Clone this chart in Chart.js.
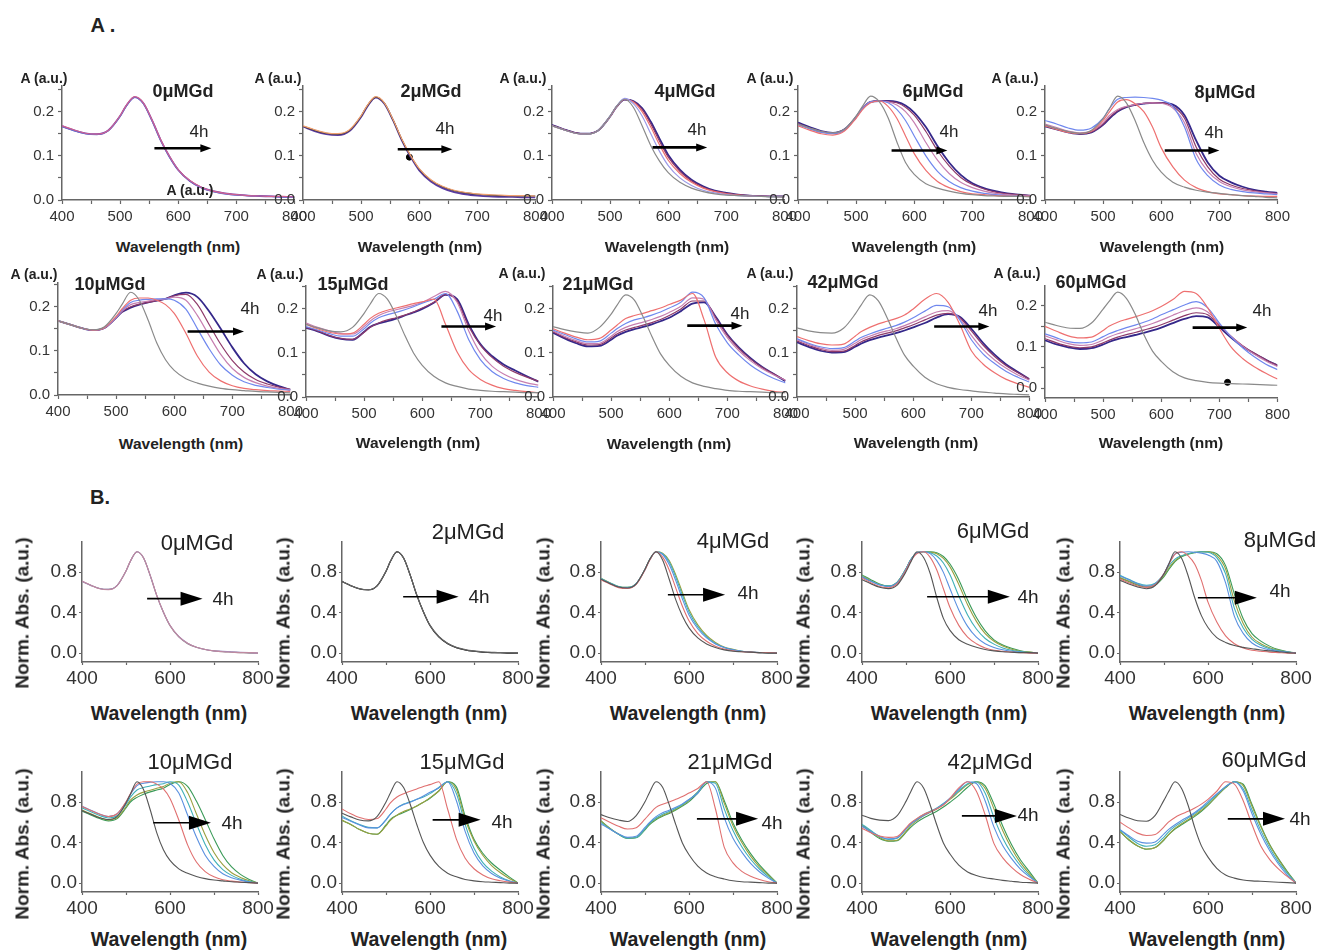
<!DOCTYPE html>
<html><head><meta charset="utf-8">
<script src="https://cdn.jsdelivr.net/npm/chart.js@4.4.1/dist/chart.umd.min.js"></script>
<style>
html,body{margin:0;padding:0;background:#fff;}
body{width:1328px;height:951px;position:relative;overflow:hidden;font-family:"Liberation Sans",Arial,sans-serif;color:#222;}
canvas.c{position:absolute;}
.t{position:absolute;white-space:nowrap;transform:translate(-50%,-50%);line-height:1;}
</style></head>
<body>
<script>
// ---------- data (absorbance) ----------
const wavelengths = [400,420,440,460,480,500,510,525,540,555,570,585,600,620,640,660,680,700,720,740,760,780,800];
const concLabels = ['0','2','4','6','8','10','15','21','42','60'];

const gd0_c1 = [.168,.159,.151,.149,.158,.191,.213,.234,.220,.181,.136,.099,.069,.044,.029,.020,.015,.012,.010,.009,.008,.008,.007];
const gd0_c2 = [.166,.157,.150,.148,.157,.189,.211,.232,.218,.179,.134,.097,.068,.043,.028,.019,.014,.011,.010,.009,.008,.007,.006];
const gd0_c3 = [.167,.158,.151,.149,.158,.190,.212,.233,.219,.180,.135,.098,.068,.043,.028,.020,.015,.012,.010,.009,.008,.007,.007];

const gd2_c1 = [.168,.159,.152,.150,.159,.191,.213,.234,.220,.182,.138,.101,.071,.046,.031,.022,.017,.014,.012,.011,.010,.010,.009];
const gd2_c2 = [.167,.158,.151,.149,.158,.190,.212,.233,.219,.181,.137,.100,.070,.045,.030,.021,.016,.013,.011,.010,.010,.009,.009];
const gd2_c3 = [.166,.156,.149,.147,.156,.188,.210,.232,.218,.180,.135,.098,.067,.042,.027,.018,.013,.010,.008,.007,.007,.006,.006];

const gd4_c1 = [.168,.159,.151,.149,.158,.190,.210,.228,.210,.168,.123,.088,.062,.040,.027,.019,.014,.011,.010,.009,.008,.007,.007];
const gd4_c2 = [.168,.159,.151,.149,.158,.190,.210,.230,.218,.190,.150,.110,.078,.050,.033,.022,.016,.012,.010,.009,.008,.008,.007];
const gd4_c3 = [.168,.159,.151,.149,.158,.189,.209,.228,.222,.200,.165,.125,.090,.060,.040,.027,.019,.014,.011,.009,.008,.008,.007];
const gd4_c4 = [.169,.160,.152,.150,.158,.189,.209,.227,.223,.205,.172,.133,.097,.065,.043,.029,.020,.015,.012,.010,.009,.008,.008];
const gd4_c5 = [.170,.160,.152,.150,.158,.189,.209,.227,.224,.208,.177,.139,.102,.069,.046,.031,.021,.016,.012,.010,.009,.008,.008];

const gd6_c1 = [.172,.163,.155,.152,.160,.190,.210,.235,.222,.186,.132,.085,.058,.037,.027,.020,.015,.012,.010,.009,.008,.008,.007];
const gd6_c2 = [.168,.158,.150,.147,.156,.185,.203,.220,.224,.212,.185,.145,.105,.067,.042,.028,.019,.014,.012,.010,.009,.008,.008];
const gd6_c3 = [.170,.161,.153,.150,.158,.187,.205,.222,.224,.220,.205,.180,.145,.100,.065,.042,.028,.020,.015,.012,.010,.009,.008];
const gd6_c4 = [.171,.162,.154,.151,.159,.188,.206,.222,.224,.222,.215,.200,.175,.130,.090,.060,.040,.028,.020,.015,.012,.010,.009];
const gd6_c5 = [.173,.163,.155,.151,.159,.188,.206,.222,.224,.223,.220,.210,.192,.155,.112,.077,.051,.035,.025,.018,.014,.012,.010];
const gd6_c6 = [.175,.165,.156,.152,.160,.188,.206,.222,.224,.224,.222,.214,.198,.165,.122,.085,.057,.038,.027,.020,.015,.012,.010];

const gd8_c1 = [.170,.162,.155,.151,.158,.185,.205,.235,.220,.180,.130,.090,.063,.040,.029,.022,.018,.015,.012,.010,.008,.006,.005];
const gd8_c2 = [.168,.160,.153,.150,.156,.180,.198,.222,.227,.218,.200,.165,.118,.075,.045,.028,.019,.014,.012,.010,.009,.008,.008];
const gd8_c3 = [.180,.172,.163,.158,.163,.185,.205,.228,.232,.233,.232,.230,.226,.212,.165,.092,.055,.034,.024,.019,.016,.014,.012];
const gd8_c4 = [.172,.164,.156,.152,.156,.175,.190,.205,.212,.216,.219,.220,.219,.208,.175,.105,.065,.042,.030,.023,.019,.016,.014];
const gd8_c5 = [.168,.161,.154,.150,.154,.172,.186,.202,.211,.216,.219,.220,.220,.212,.185,.120,.075,.047,.034,.026,.021,.017,.015];
const gd8_c6 = [.167,.160,.153,.149,.153,.170,.183,.200,.210,.215,.218,.220,.220,.216,.192,.135,.085,.055,.040,.030,.023,.019,.016];

const gd10_c1 = [.168,.160,.152,.148,.155,.185,.205,.233,.215,.170,.118,.080,.056,.037,.027,.020,.015,.012,.010,.008,.007,.006,.005];
const gd10_c2 = [.168,.160,.152,.147,.153,.178,.195,.215,.220,.220,.215,.205,.185,.140,.088,.052,.032,.021,.015,.012,.010,.009,.008];
const gd10_c3 = [.168,.160,.152,.147,.153,.176,.192,.210,.215,.217,.218,.218,.215,.195,.150,.105,.068,.045,.030,.022,.017,.013,.011];
const gd10_c4 = [.168,.160,.152,.147,.152,.175,.190,.205,.210,.213,.216,.218,.222,.215,.180,.135,.092,.060,.040,.028,.020,.015,.012];
const gd10_c5 = [.168,.160,.152,.147,.152,.175,.189,.200,.206,.210,.214,.218,.225,.228,.205,.160,.115,.078,.052,.035,.025,.018,.013];
const gd10_c6 = [.168,.160,.152,.147,.152,.175,.188,.198,.205,.210,.214,.218,.226,.232,.222,.190,.150,.108,.072,.047,.031,.020,.012];

const gd15_c1 = [.165,.157,.150,.148,.158,.190,.210,.235,.222,.185,.140,.100,.072,.047,.032,.024,.018,.015,.013,.012,.011,.010,.010];
const gd15_c2 = [.165,.155,.147,.143,.145,.165,.178,.190,.197,.202,.207,.212,.216,.222,.165,.102,.062,.040,.027,.019,.015,.012,.010];
const gd15_c3 = [.160,.152,.144,.138,.138,.155,.167,.180,.187,.192,.198,.205,.213,.222,.235,.195,.130,.085,.058,.042,.032,.026,.022];
const gd15_c4 = [.168,.158,.150,.144,.143,.160,.172,.185,.193,.198,.203,.208,.215,.228,.240,.215,.150,.100,.070,.052,.040,.032,.027];
const gd15_c5 = [.158,.150,.140,.133,.131,.147,.158,.168,.175,.180,.186,.193,.202,.215,.233,.218,.160,.118,.090,.070,.056,.045,.036];
const gd15_c6 = [.157,.149,.139,.132,.130,.148,.159,.167,.172,.178,.185,.192,.200,.214,.232,.222,.165,.120,.093,.074,.060,.047,.035];

const gd21_c1 = [.160,.153,.148,.145,.158,.188,.208,.232,.220,.182,.138,.098,.072,.047,.032,.024,.019,.015,.013,.012,.011,.010,.010];
const gd21_c2 = [.155,.145,.136,.130,.133,.152,.163,.178,.185,.190,.196,.202,.210,.220,.235,.175,.090,.055,.036,.025,.018,.013,.010];
const gd21_c3 = [.152,.142,.132,.125,.127,.145,.155,.167,.175,.180,.186,.193,.202,.215,.238,.225,.165,.123,.095,.072,.055,.042,.032];
const gd21_c4 = [.150,.138,.128,.121,.122,.138,.148,.158,.165,.170,.176,.183,.192,.206,.225,.222,.175,.135,.105,.082,.064,.050,.038];
const gd21_c5 = [.148,.135,.125,.118,.119,.134,.143,.152,.158,.163,.169,.176,.185,.200,.218,.218,.180,.140,.110,.086,.067,.052,.038];
const gd21_c6 = [.146,.133,.122,.115,.116,.130,.139,.148,.154,.159,.165,.172,.180,.195,.212,.215,.182,.142,.112,.088,.068,.052,.036];

const gd42_c1 = [.157,.150,.146,.145,.156,.188,.208,.232,.218,.180,.135,.095,.070,.045,.030,.022,.017,.014,.011,.009,.007,.006,.005];
const gd42_c2 = [.137,.128,.121,.118,.120,.138,.148,.158,.166,.172,.178,.186,.200,.222,.235,.215,.165,.105,.075,.055,.040,.030,.022];
const gd42_c3 = [.132,.122,.114,.110,.112,.127,.135,.143,.150,.156,.162,.170,.180,.195,.208,.205,.175,.130,.098,.076,.058,.045,.034];
const gd42_c4 = [.130,.120,.111,.106,.108,.122,.130,.138,.145,.150,.155,.162,.170,.182,.193,.196,.178,.140,.108,.084,.065,.050,.038];
const gd42_c5 = [.127,.117,.108,.103,.104,.117,.125,.133,.140,.145,.150,.157,.164,.175,.186,.190,.180,.150,.118,.092,.071,.055,.041];
const gd42_c6 = [.124,.114,.105,.101,.102,.114,.121,.129,.135,.140,.145,.151,.158,.168,.180,.188,.182,.155,.123,.096,.074,.057,.040];

const gd60_c1 = [.160,.152,.146,.145,.158,.192,.210,.233,.218,.180,.130,.090,.065,.040,.025,.018,.014,.012,.011,.010,.009,.008,.007];
const gd60_c2 = [.150,.138,.127,.122,.124,.140,.150,.160,.167,.173,.180,.188,.198,.215,.235,.230,.195,.145,.100,.072,.052,.036,.022];
const gd60_c3 = [.132,.122,.113,.110,.112,.125,.132,.140,.147,.153,.160,.168,.178,.190,.202,.210,.195,.158,.125,.098,.076,.058,.045];
const gd60_c4 = [.127,.117,.108,.104,.106,.117,.124,.132,.138,.144,.150,.157,.165,.177,.188,.195,.185,.155,.126,.102,.082,.066,.052];
const gd60_c5 = [.120,.110,.102,.098,.100,.110,.116,.124,.130,.135,.141,.147,.154,.165,.176,.183,.178,.152,.126,.103,.085,.069,.055];
const gd60_c6 = [.116,.106,.099,.095,.097,.106,.112,.119,.124,.129,.134,.140,.147,.158,.168,.175,.172,.148,.123,.101,.084,.069,.055];

// stray marker dots seen in two panels (panel index, wavelength, absorbance)
const dotPanel = [1, 9];
const dotWl = [583, 714];
const dotAbs = [0.097, 0.014];

// "4h" arrows in data units: [start nm, end nm, value]
const arrowsA = [[559,657,0.117],[563,657,0.115],[573,667,0.119],[561,657,0.112],[606,700,0.112],[623,720,0.144],[633,727,0.160],[631,726,0.162],[636,731,0.160],[654,748,0.147]];
const arrowsB = [[548,674,0.537],[539,665,0.556],[552,682,0.576],[548,736,0.556],[577,711,0.546],[562,693,0.595],[606,715,0.624],[618,757,0.634],[627,752,0.663],[645,775,0.634]];

// ---------- series lists per panel ----------
const curvesByPanel = [
  [gd0_c1, gd0_c2, gd0_c3],
  [gd2_c1, gd2_c2, gd2_c3],
  [gd4_c1, gd4_c2, gd4_c3, gd4_c4, gd4_c5],
  [gd6_c1, gd6_c2, gd6_c3, gd6_c4, gd6_c5, gd6_c6],
  [gd8_c1, gd8_c2, gd8_c3, gd8_c4, gd8_c5, gd8_c6],
  [gd10_c1, gd10_c2, gd10_c3, gd10_c4, gd10_c5, gd10_c6],
  [gd15_c1, gd15_c2, gd15_c3, gd15_c4, gd15_c5, gd15_c6],
  [gd21_c1, gd21_c2, gd21_c3, gd21_c4, gd21_c5, gd21_c6],
  [gd42_c1, gd42_c2, gd42_c3, gd42_c4, gd42_c5, gd42_c6],
  [gd60_c1, gd60_c2, gd60_c3, gd60_c4, gd60_c5, gd60_c6]
];

// ---------- styles / layout ----------
const palA = ['#8a8a8a','#ee7070','#7088ee','#c77fb0','#8e3a6a','#35288a'];
const palA0 = ['#d06090','#6070d0','#7040b0'];
const palA2 = ['#f0a070','#333333','#5a3aa0'];
const palA4 = ['#8a8a8a','#9a9ae8','#ee7070','#8e3a6a','#35288a'];
const palB = ['#555555','#e07070','#5a90e0','#40b0b8','#9aa040','#3a9a58'];
const palB0 = ['#c08aa0','#9a88c0','#8a8a8a'];
const palB2 = ['#666666','#444444','#333333'];

const leftA = [62,303,552,798,1045,58,306,553,797,1045];
const topA = [85,85,85,85,85,282,285,285,285,285];
const botA = [200,200,200,200,200,395,397,397,397,398];
const yMinA = [0,0,0,0,0,0,0,0,0,-0.024];
const yMaxA = [0.258,0.258,0.258,0.258,0.258,0.254,0.252,0.252,0.252,0.248];
const leftB = [82,342,601,862,1120,82,342,601,862,1120];

const titleA = [[183,91],[431,91],[685,91],[933,91],[1225,92],[110,284],[353,284],[598,284],[843,282],[1091,282]];
const hA = [[199,131],[445,128],[697,129],[949,131],[1214,132],[250,308],[493,315],[740,313],[988,310],[1262,310]];
const yLabA = [[44,78],[278,78],[523,78],[770,78],[1015,78],[34,274],[280,274],[522,273],[770,273],[1017,273]];
const wlA = [[178,247],[420,247],[667,247],[914,247],[1162,247],[181,444],[418,443],[669,444],[916,443],[1161,443]];

const titleB = [[197,543],[468,532],[733,541],[993,531],[1280,540],[190,762],[462,762],[730,762],[990,762],[1264,760]];
const hB = [[223,598],[479,596],[748,592],[1028,596],[1280,590],[232,822],[502,821],[772,822],[1028,814],[1300,818]];
const normLabX = [22,283,543,803,1063];
const wlBX = [169,429,688,949,1207];

const FONT = '"Liberation Sans", Arial, sans-serif';

function addText(txt, x, y, css) {
  const d = document.createElement('div');
  d.className = 't';
  d.textContent = txt;
  d.style.left = x + 'px';
  d.style.top = y + 'px';
  d.style.cssText += css;
  document.body.appendChild(d);
  return d;
}

const arrowPlugin = {
  id: 'arrow',
  afterDatasetsDraw(chart, args, o) {
    if (!o || o.x0 == null) return;
    const xs = chart.scales.x, ys = chart.scales.y, ctx = chart.ctx;
    const a = xs.getPixelForValue(o.x0), b = xs.getPixelForValue(o.x1), y = ys.getPixelForValue(o.y);
    ctx.save();
    ctx.strokeStyle = '#000'; ctx.fillStyle = '#000'; ctx.lineWidth = o.lw;
    ctx.beginPath(); ctx.moveTo(a, y); ctx.lineTo(b - o.hl * 0.6, y); ctx.stroke();
    ctx.beginPath(); ctx.moveTo(b, y); ctx.lineTo(b - o.hl, y - o.hw); ctx.lineTo(b - o.hl, y + o.hw); ctx.closePath(); ctx.fill();
    ctx.restore();
  }
};

function makeCanvas(left, top, w, h) {
  const c = document.createElement('canvas');
  c.className = 'c';
  c.width = w; c.height = h;
  c.style.left = left + 'px'; c.style.top = top + 'px';
  c.style.width = w + 'px'; c.style.height = h + 'px';
  document.body.appendChild(c);
  return c;
}

function makeChart(canvas, datasets, cfg) {
  return new Chart(canvas, {
    type: 'line',
    data: { datasets },
    options: {
      responsive: false, animation: false, devicePixelRatio: 1,
      layout: { padding: { top: cfg.padTop, right: cfg.padRight, left: 0, bottom: 0 } },
      plugins: { legend: { display: false }, tooltip: { enabled: false }, arrow: cfg.arrow },
      elements: { point: { radius: 0 }, line: { cubicInterpolationMode: 'monotone' } },
      scales: {
        x: {
          type: 'linear', min: 400, max: 800,
          afterFit: s => { s.height = cfg.xh; },
          ticks: { stepSize: cfg.xStep, autoSkip: false, maxRotation: 0, minRotation: 0, padding: cfg.tickPad,
                   color: '#333', font: { family: FONT, size: cfg.fs },
                   callback: v => (v % cfg.xLabEvery === 0 ? String(v) : '') },
          grid: { drawOnChartArea: false, tickLength: cfg.tickLen, color: '#666', tickWidth: 1.2 },
          border: { color: '#666', width: 1.5 }
        },
        y: {
          min: cfg.yMin, max: cfg.yMax,
          afterFit: s => { s.width = cfg.yw; },
          ticks: { stepSize: cfg.yStep, includeBounds: false, padding: cfg.tickPad,
                   color: '#333', font: { family: FONT, size: cfg.fs },
                   callback: v => {
                     const r = v / cfg.yLabEvery;
                     return Math.abs(r - Math.round(r)) < 1e-6 ? v.toFixed(1) : '';
                   } },
          grid: { drawOnChartArea: false, tickLength: cfg.tickLen, color: '#666', tickWidth: 1.2 },
          border: { color: '#666', width: 1.5 }
        }
      }
    },
    plugins: [arrowPlugin]
  });
}

function toPoints(arr) { return wavelengths.map((w, i) => ({ x: w, y: arr[i] })); }
// normalized absorbance: baseline at 800 nm set to 0, maximum set to 1
function normalize(arr) {
  const base = arr[arr.length - 1];
  const mx = Math.max(...arr);
  return arr.map(v => (v - base) / (mx - base));
}

// ---------- section A ----------
addText('A .', 103, 25, 'font-weight:bold;font-size:20px;');
const YW_A = 45, PT_A = 12, PR_A = 16, XH_A = 28, PW_A = 233;
for (let p = 0; p < 10; p++) {
  const curves = curvesByPanel[p];
  const pal = p === 0 ? palA0 : p === 1 ? palA2 : p === 2 ? palA4 : palA;
  const ds = curves.map((c, i) => ({
    data: toPoints(c), borderColor: pal[i],
    borderWidth: i === curves.length - 1 ? 1.8 : 1.2, fill: false
  }));
  dotPanel.forEach((dp, k) => {
    if (dp === p) ds.push({ data: [{ x: dotWl[k], y: dotAbs[k] }], showLine: false, pointRadius: 3,
      pointBackgroundColor: '#000', pointBorderColor: '#000', borderColor: '#000' });
  });
  const L = leftA[p], T = topA[p], Bm = botA[p];
  const cv = makeCanvas(L - YW_A, T - PT_A, YW_A + PW_A + PR_A, PT_A + (Bm - T) + XH_A);
  makeChart(cv, ds, {
    padTop: PT_A, padRight: PR_A, xh: XH_A, yw: YW_A, fs: 15, tickLen: 4, tickPad: 4,
    xStep: 50, xLabEvery: 100, yMin: yMinA[p], yMax: yMaxA[p], yStep: 0.05, yLabEvery: 0.1,
    arrow: { x0: arrowsA[p][0], x1: arrowsA[p][1], y: arrowsA[p][2], lw: 2.6, hl: 11, hw: 4 }
  });
  addText(concLabels[p] + 'μMGd', titleA[p][0], titleA[p][1], 'font-weight:bold;font-size:18px;');
  addText('4h', hA[p][0], hA[p][1], 'font-size:17px;');
  addText('A (a.u.)', yLabA[p][0], yLabA[p][1], 'font-weight:bold;font-size:14px;');
  addText('Wavelength (nm)', wlA[p][0], wlA[p][1], 'font-weight:bold;font-size:15.5px;');
}
// stray axis label inside the first panel
addText('A (a.u.)', 190, 190, 'font-weight:bold;font-size:14px;');

// ---------- section B ----------
addText('B.', 100, 497, 'font-weight:bold;font-size:20px;');
const YW_B = 50, PT_B = 12, PR_B = 20, XH_B = 26, PW_B = 176;
for (let p = 0; p < 10; p++) {
  const curves = curvesByPanel[p];
  const pal = p === 0 ? palB0 : p === 1 ? palB2 : palB;
  const ds = curves.map((c, i) => ({
    data: toPoints(normalize(c)), borderColor: pal[i], borderWidth: 1.1, fill: false
  }));
  const row = p < 5 ? 0 : 1;
  const T = row === 0 ? 540 : 770, Bm = row === 0 ? 662 : 892;
  const L = leftB[p];
  const cv = makeCanvas(L - YW_B, T - PT_B, YW_B + PW_B + PR_B, PT_B + (Bm - T) + XH_B);
  makeChart(cv, ds, {
    padTop: PT_B, padRight: PR_B, xh: XH_B, yw: YW_B, fs: 19, tickLen: 3, tickPad: 2,
    xStep: 100, xLabEvery: 200, yMin: -0.088, yMax: 1.102, yStep: 0.2, yLabEvery: 0.4,
    arrow: { x0: arrowsB[p][0], x1: arrowsB[p][1], y: arrowsB[p][2], lw: 1.6, hl: 22, hw: 7 }
  });
  addText(concLabels[p] + 'μMGd', titleB[p][0], titleB[p][1], 'font-size:22px;');
  addText('4h', hB[p][0], hB[p][1], 'font-size:19px;');
  const nl = addText('Norm. Abs. (a.u.)', normLabX[p % 5], row === 0 ? 613 : 844, 'font-weight:bold;font-size:19px;');
  nl.style.transform = 'translate(-50%,-50%) rotate(-90deg)';
  addText('Wavelength (nm)', wlBX[p % 5], row === 0 ? 714 : 940, 'font-weight:bold;font-size:19.5px;');
}
</script>
</body></html>
